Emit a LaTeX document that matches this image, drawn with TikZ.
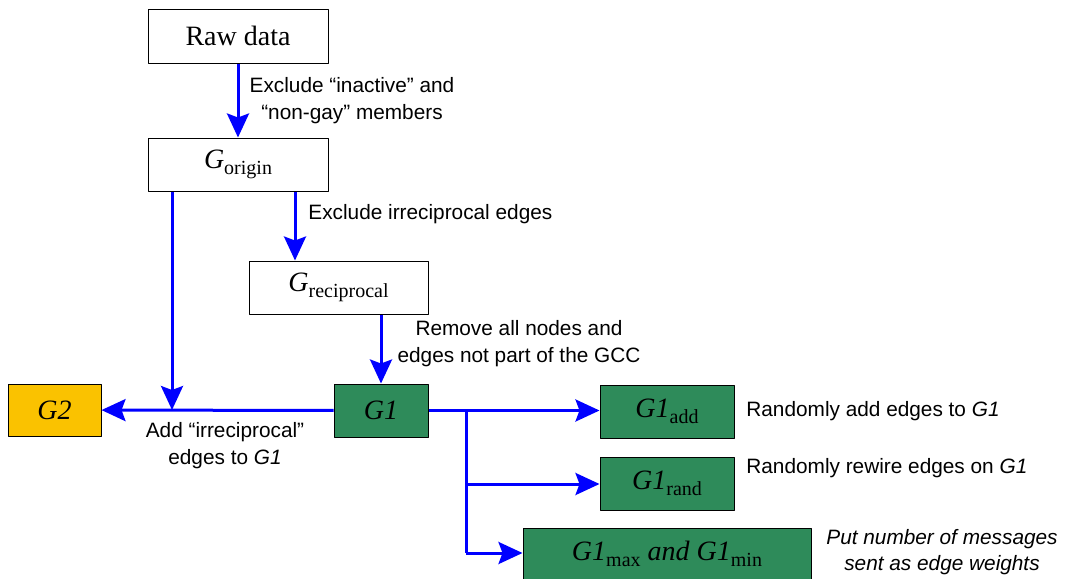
\documentclass[tikz,border=0pt]{standalone}
\usepackage{fontspec}
\setmainfont{Liberation Serif}
\setsansfont{Liberation Sans}
\usetikzlibrary{arrows.meta}
\definecolor{boxgreen}{RGB}{46,139,90}
\definecolor{boxyellow}{RGB}{250,194,0}
\newcommand{\gsub}[2]{\textit{#1}\raisebox{-0.5ex}{\fontsize{10}{12}\selectfont #2}}
\begin{document}
\begin{tikzpicture}[x=0.5pt,y=-0.5pt,>={Stealth[length=12pt,width=11pt,inset=2pt]},line join=bevel,
  box/.style={draw=black,line width=0.5pt,inner sep=0pt,font=\fontsize{14}{16}\selectfont},
  flow/.style={blue,line width=1.5pt,->},
  link/.style={blue,line width=1.5pt},
  note/.style={font=\sffamily\fontsize{10.4}{13.5}\selectfont,align=center,inner sep=0pt},
]
\useasboundingbox (0,0) rectangle (1069,578);
%%
\node (node_raw) at (238,36) [box,minimum width=90pt,minimum height=27pt,fill=white] {Raw data};
  \node (node_origin) at (238,164.5) [box,minimum width=90pt,minimum height=26.5pt,fill=white] {\gsub{G}{origin}};
  \node (node_recip) at (338.5,287.5) [box,minimum width=89.5pt,minimum height=26.5pt,fill=white] {\gsub{G}{reciprocal}};
  \node (node_g1) at (381,410.5) [box,minimum width=47pt,minimum height=26.5pt,fill=boxgreen] {\textit{G1}};
  \node (node_g2) at (54.5,410) [box,minimum width=46.5pt,minimum height=26pt,fill=boxyellow] {\textit{G2}};
  \node (node_add) at (667,411.5) [box,minimum width=67pt,minimum height=26.5pt,fill=boxgreen] {\gsub{G1}{add}};
  \node (node_rand) at (667,483.5) [box,minimum width=67pt,minimum height=26.5pt,fill=boxgreen] {\gsub{G1}{rand}};
  \node (node_mm) at (667,554) [box,minimum width=144pt,minimum height=26pt,fill=boxgreen] {\gsub{G1}{max} \textit{and} \gsub{G1}{min}};
%
  \node (lbl_inactive) at (352,101) [note] {Exclude “inactive” and\\“non-gay” members};
  \node (lbl_irrecip) at (308,214) [note,anchor=west] {Exclude irreciprocal edges};
  \node (lbl_gcc) at (519,344) [note] {Remove all nodes and\\edges not part of the GCC};
  \node (lbl_g2) at (225,446) [note] {Add “irreciprocal”\\edges to \textit{G1}};
  \node (lbl_add) at (746,411) [note,anchor=west] {Randomly add edges to \textit{G1}};
  \node (lbl_rand) at (746,468) [note,anchor=west] {Randomly rewire edges on \textit{G1}};
  \node (lbl_mm) at (942,552) [note,font=\sffamily\itshape\fontsize{10.4}{13}\selectfont] {Put number of messages\\sent as edge weights};
%
  \coordinate (jn_g2) at (172,410);
  \coordinate (jn_split) at (466,410.5);
  \coordinate (jn_rand) at (466,484);
  \coordinate (jn_mm) at (466,553);
%
  \draw [flow] (node_raw) -- (node_origin);
  \draw [flow] (node_origin.south -| 295,0) -- (node_recip.north -| 295,0);
  \draw [flow] (node_recip.south -| node_g1) -- (node_g1);
  \draw [flow] (node_g1) -- (node_g2);
  \draw [flow] (node_origin.south -| jn_g2) -- (jn_g2);
  \draw [link] (node_g1) -- (jn_split);
  \draw [flow] (jn_split) -- (node_add.west |- jn_split);
  \draw [link] (jn_split) -- (jn_mm);
  \draw [flow] (jn_rand) -- (node_rand.west |- jn_rand);
  \draw [flow] (jn_mm) -- (node_mm.west |- jn_mm);
%
\end{tikzpicture}
\end{document}
